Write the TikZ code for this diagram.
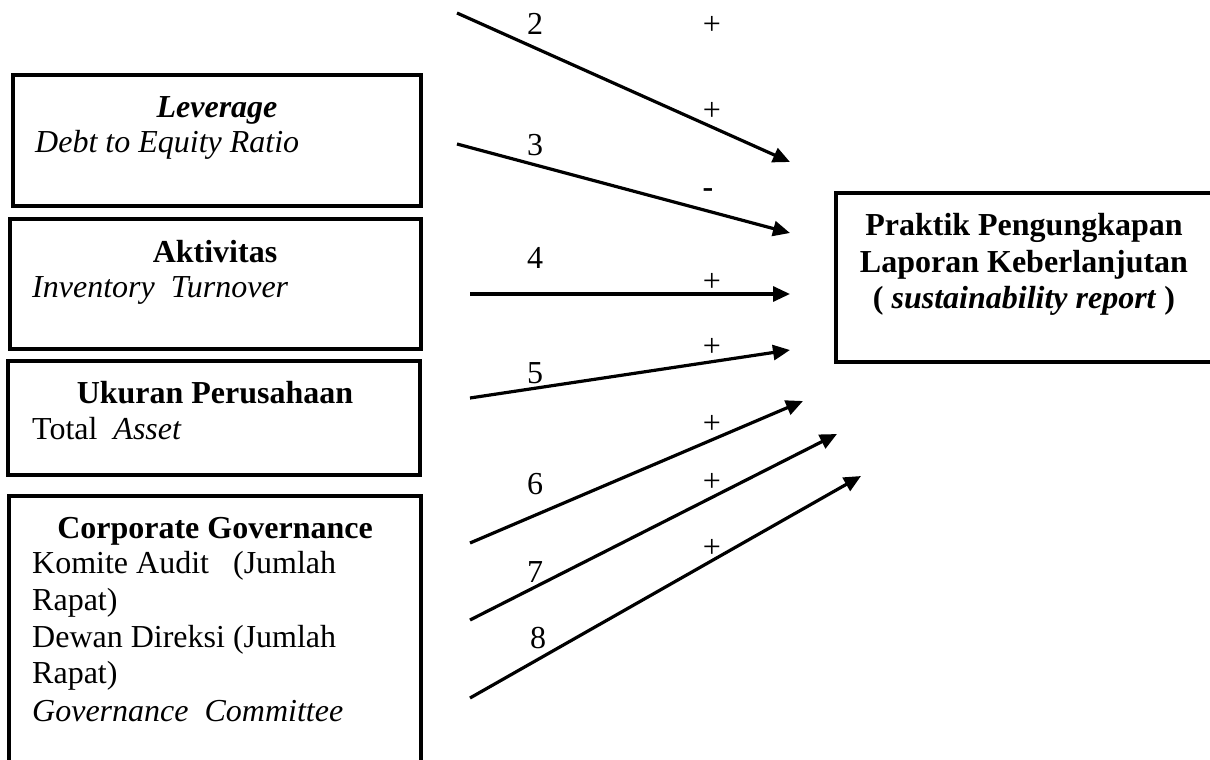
\documentclass[tikz,border=0pt]{standalone}
\usepackage{fontspec}
\setmainfont{Liberation Serif}
\usetikzlibrary{arrows.meta}
\begin{document}
\begin{tikzpicture}[x=1pt,y=-1pt,
  box/.style={draw, line width=3.4pt, rectangle, inner sep=0pt},
  txt/.style={inner sep=0pt, font=\fontsize{32}{37}\selectfont},
  conn/.style={line width=3.2pt, -{Triangle[length=17pt,width=15pt]}}]
\useasboundingbox (0,0) rectangle (1210,760);
\clip (0,0) rectangle (1210,760);
% boxes
\node[box, minimum width=408pt, minimum height=131pt] (lev) at (217,140.5) {};
\node[box, minimum width=411pt, minimum height=130pt] (akt) at (215.5,284) {};
\node[box, minimum width=412pt, minimum height=114pt] (uku) at (214,418) {};
\node[box, minimum width=412pt, minimum height=304pt] (cg) at (215,648) {};
\node[box, minimum width=384pt, minimum height=169pt] (dep) at (1028,277.5) {};
% box texts
\node[txt, anchor=base] (levh) at (217,117) {\textbf{\textit{Leverage}}};
\node[txt, anchor=base west] (levt) at (35,152) {\textit{Debt to Equity Ratio}};
\node[txt, anchor=base] (akth) at (215,262) {\textbf{Aktivitas}};
\node[txt, anchor=base west] (aktt) at (32,297) {\textit{Inventory\ \ Turnover}};
\node[txt, anchor=base] (ukuh) at (215,403) {\textbf{Ukuran Perusahaan}};
\node[txt, anchor=base west] (ukut) at (32,439) {Total\ \ \textit{Asset}};
\node[txt, anchor=base] (cgh) at (215,538) {\textbf{Corporate Governance}};
\node[txt, anchor=base west] (cg1) at (32,573) {Komite Audit\ \ \ (Jumlah};
\node[txt, anchor=base west] (cg2) at (32,610) {Rapat)};
\node[txt, anchor=base west] (cg3) at (32,647) {Dewan Direksi (Jumlah};
\node[txt, anchor=base west] (cg4) at (32,683) {Rapat)};
\node[txt, anchor=base west] (cg5) at (32,721) {\textit{Governance\ \ Committee}};
\node[txt, anchor=base] (dep1) at (1024,235) {\textbf{Praktik Pengungkapan}};
\node[txt, anchor=base] (dep2) at (1024,272) {\textbf{Laporan Keberlanjutan}};
\node[txt, anchor=base] (dep3) at (1024,308) {\textbf{( \textit{sustainability report} )}};
% connector endpoints
\coordinate (s2) at (457,13);  \coordinate (e2) at (790,162);
\coordinate (s3) at (457,144); \coordinate (e3) at (790,233);
\coordinate (s4) at (470,294); \coordinate (e4) at (790,294);
\coordinate (s5) at (470,398); \coordinate (e5) at (790,350);
\coordinate (s6) at (470,543); \coordinate (e6) at (803,401);
\coordinate (s7) at (470,620); \coordinate (e7) at (837,434);
\coordinate (s8) at (470,698); \coordinate (e8) at (861,476);
\draw[conn] (s2) -- (e2);
\draw[conn] (s3) -- (e3);
\draw[conn] (s4) -- (e4);
\draw[conn] (s5) -- (e5);
\draw[conn] (s6) -- (e6);
\draw[conn] (s7) -- (e7);
\draw[conn] (s8) -- (e8);
% labels
\node[txt] (n2) at (535,24) {2};
\node[txt] (p1) at (712,25) {+};
\node[txt] (p2) at (712,111) {+};
\node[txt] (n3) at (535,145) {3};
\node[txt] (m3) at (708,193) {\textbf{-}};
\node[txt] (n4) at (535,258) {4};
\node[txt] (p4) at (712,282) {+};
\node[txt] (p5) at (712,347) {+};
\node[txt] (n5) at (535,373) {5};
\node[txt] (p6) at (712,424) {+};
\node[txt] (n6) at (535,484) {6};
\node[txt] (p7) at (712,482) {+};
\node[txt] (n7) at (535,572) {7};
\node[txt] (p8) at (712,548) {+};
\node[txt] (n8) at (538,638) {8};
\end{tikzpicture}
\end{document}
